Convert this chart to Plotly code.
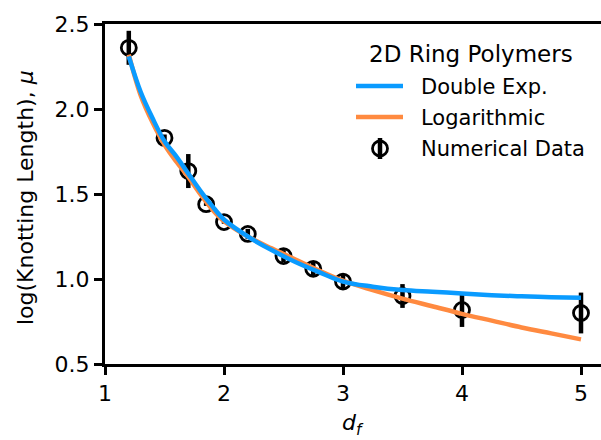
import plotly.graph_objects as go

# ---- data ----
df_data = [1.2, 1.5, 1.7, 1.85, 2.0, 2.2, 2.5, 2.75, 3.0, 3.5, 4.0, 5.0]
mu_data = [2.36, 1.83, 1.635, 1.44, 1.335, 1.265, 1.135, 1.06, 0.985, 0.90, 0.818, 0.80]
mu_err = [0.10, 0.02, 0.10, 0.01, 0.01, 0.03, 0.035, 0.04, 0.045, 0.07, 0.10, 0.12]

df_fit = [1.2, 1.3, 1.4, 1.5, 1.6, 1.7, 1.8, 1.9, 2.0, 2.2, 2.4, 2.6, 2.8, 3.0,
          3.25, 3.5, 3.75, 4.0, 4.25, 4.5, 4.75, 5.0]
mu_double_exp = [2.31, 2.10, 1.945, 1.81, 1.72, 1.62, 1.52, 1.43, 1.35, 1.25, 1.17,
                 1.10, 1.04, 0.985, 0.955, 0.935, 0.925, 0.915, 0.905, 0.898, 0.893, 0.889]
mu_log = [2.32, 2.08, 1.92, 1.79, 1.69, 1.60, 1.50, 1.41, 1.34, 1.25, 1.18,
          1.115, 1.05, 0.99, 0.935, 0.885, 0.84, 0.795, 0.755, 0.715, 0.68, 0.645]

x_ticks = [1, 2, 3, 4, 5]
y_ticks = [0.5, 1.0, 1.5, 2.0, 2.5]
y_tick_text = ["0.5", "1.0", "1.5", "2.0", "2.5"]

x_title = "<i>d<sub>f</sub></i>"
y_title = "log(Knotting Length), <i>μ</i>"
legend_title = "2D Ring Polymers"
legend_names = ["Double Exp.", "Logarithmic", "Numerical Data"]

BLUE = "#0a9bff"
ORANGE = "#ff8a40"
FONT = "DejaVu Sans"

fig = go.Figure()
fig.add_trace(go.Scatter(
    x=df_data, y=mu_data, mode="markers",
    marker=dict(symbol="circle-open", size=15, color="black", line=dict(width=2.8, color="black")),
    error_y=dict(type="data", array=mu_err, visible=True, color="black", thickness=4.5, width=0),
    showlegend=False, name=legend_names[2]))
fig.add_trace(go.Scatter(x=df_fit, y=mu_log, mode="lines", line=dict(color=ORANGE, width=4.5, shape="spline"),
                         showlegend=False, name=legend_names[1]))
fig.add_trace(go.Scatter(x=df_fit, y=mu_double_exp, mode="lines", line=dict(color=BLUE, width=4.5, shape="spline"),
                         showlegend=False, name=legend_names[0]))

L, R, T, B = 105, 0, 24, 76
W, H = 601, 440
PW, PH = W - L - R, H - T - B


def px(xp):
    return (xp - L) / PW


def py(yp):
    return (T + PH - yp) / PH


shapes = []
annotations = []
# axis titles
annotations.append(dict(x=px(353), y=py(424), xref="paper", yref="paper", text=x_title, showarrow=False,
                        font=dict(family=FONT, size=22, color="black"), xanchor="center", yanchor="middle"))
annotations.append(dict(x=px(25), y=py(198), xref="paper", yref="paper", text=y_title, showarrow=False,
                        textangle=-90, font=dict(family=FONT, size=22, color="black"),
                        xanchor="center", yanchor="middle"))
# legend title
annotations.append(dict(x=px(471), y=py(54), xref="paper", yref="paper", text=legend_title,
                        showarrow=False, font=dict(family=FONT, size=23, color="black"),
                        xanchor="center", yanchor="middle"))
# legend lines
for yy, col, name in [(86, BLUE, legend_names[0]), (117, ORANGE, legend_names[1])]:
    shapes.append(dict(type="line", xref="paper", yref="paper", x0=px(356), x1=px(403), y0=py(yy), y1=py(yy),
                       line=dict(color=col, width=4.5)))
    annotations.append(dict(x=px(419), y=py(yy + 1), xref="paper", yref="paper", text=name, showarrow=False,
                            font=dict(family=FONT, size=21, color="black"), xanchor="left", yanchor="middle"))
# legend marker
shapes.append(dict(type="line", xref="paper", yref="paper", x0=px(380), x1=px(380), y0=py(138), y1=py(159),
                   line=dict(color="black", width=4.5)))
shapes.append(dict(type="circle", xref="paper", yref="paper", xsizemode="pixel", ysizemode="pixel",
                   xanchor=px(380), yanchor=py(148.5), x0=-7.5, x1=7.5, y0=-7.5, y1=7.5,
                   line=dict(color="black", width=2.8)))
annotations.append(dict(x=px(419), y=py(149), xref="paper", yref="paper", text=legend_names[2], showarrow=False,
                        font=dict(family=FONT, size=21, color="black"), xanchor="left", yanchor="middle"))

fig.update_layout(
    width=W, height=H, margin=dict(l=L, r=R, t=T, b=B, pad=0, autoexpand=False),
    paper_bgcolor="white", plot_bgcolor="white",
    font=dict(family=FONT, color="black"),
    shapes=shapes, annotations=annotations,
    xaxis=dict(range=[1, 1 + PW / 119.0], tickvals=x_ticks, ticks="outside", ticklen=8, tickwidth=2.5,
               tickcolor="black", showline=True, linecolor="black", linewidth=3, mirror=True,
               showgrid=False, zeroline=False, tickfont=dict(family=FONT, size=22), automargin=False),
    yaxis=dict(range=[0.5, 2.5], tickvals=y_ticks, ticktext=y_tick_text, ticks="outside", ticklen=8,
               tickwidth=2.5, tickcolor="black", showline=True, linecolor="black", linewidth=3,
               showgrid=False, zeroline=False, tickfont=dict(family=FONT, size=22), automargin=False),
)

fig.write_html("out.html", config={"displayModeBar": False},
               post_script="document.body.style.margin='0';document.body.style.overflow='hidden';")
